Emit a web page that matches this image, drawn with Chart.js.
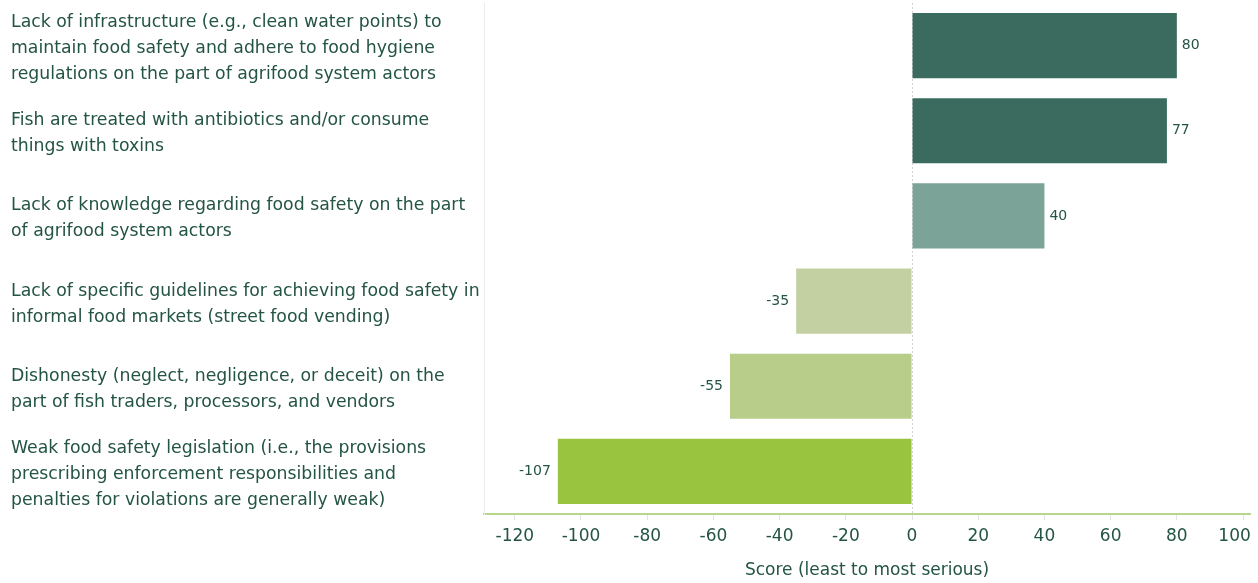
<!DOCTYPE html>
<html>
<head>
<meta charset="utf-8">
<script src="https://cdn.jsdelivr.net/npm/chart.js@4.4.1/dist/chart.umd.min.js"></script>
<style>
  html, body { margin: 0; padding: 0; background: #ffffff; }
  #wrap { width: 1258px; height: 583px; position: relative; }
</style>
</head>
<body>
<div id="wrap"><canvas id="chart"></canvas></div>
<script>
// Food safety issues, scored from least to most serious
const categories = [
  ["Lack of infrastructure (e.g., clean water points) to", "maintain food safety and adhere to food hygiene", "regulations on the part of agrifood system actors"],
  ["Fish are treated with antibiotics and/or consume", "things with toxins"],
  ["Lack of knowledge regarding food safety on the part", "of agrifood system actors"],
  ["Lack of specific guidelines for achieving food safety in", "informal food markets (street food vending)"],
  ["Dishonesty (neglect, negligence, or deceit) on the", "part of fish traders, processors, and vendors"],
  ["Weak food safety legislation (i.e., the provisions", "prescribing enforcement responsibilities and", "penalties for violations are generally weak)"]
];
const scores = [80, 77, 40, -35, -55, -107];
const barColors = ["#3a6b5e", "#3a6b5e", "#7ba398", "#c3d1a2", "#b8cd8a", "#98c43f"];
const xTicks = [-120, -100, -80, -60, -40, -20, 0, 20, 40, 60, 80, 100];
const axisTitle = "Score (least to most serious)";

const textColor = "#245445";
const fontFamily = "'DejaVu Sans', 'Noto Sans', sans-serif";

// Writes each score just beyond the end of its bar
const valueLabels = {
  id: 'valueLabels',
  afterDatasetsDraw(chart) {
    const ctx = chart.ctx;
    const meta = chart.getDatasetMeta(0);
    ctx.save();
    ctx.font = "14px " + fontFamily;
    ctx.fillStyle = textColor;
    ctx.textBaseline = 'middle';
    meta.data.forEach((bar, i) => {
      const v = scores[i];
      if (v >= 0) {
        ctx.textAlign = 'left';
        ctx.fillText(String(v), bar.x + 5, bar.y);
      } else {
        ctx.textAlign = 'right';
        ctx.fillText(String(v), bar.x - 7, bar.y);
      }
    });
    ctx.restore();
  }
};

new Chart(document.getElementById('chart'), {
  type: 'bar',
  data: {
    labels: categories,
    datasets: [{
      data: scores,
      backgroundColor: barColors,
      borderWidth: 0,
      barPercentage: 0.765,
      categoryPercentage: 1.0
    }]
  },
  options: {
    indexAxis: 'y',
    responsive: true,
    maintainAspectRatio: false,
    animation: false,
    layout: { padding: { left: 11, right: 8, top: 3, bottom: 0 } },
    plugins: {
      legend: { display: false },
      tooltip: { enabled: false }
    },
    scales: {
      x: {
        type: 'linear',
        min: -129.3,
        max: 102.1,
        afterBuildTicks(scale) {
          scale.ticks = xTicks.map(v => ({ value: v }));
        },
        afterFit(scale) {
          scale.height = 69;
          scale.paddingLeft = 0;
          scale.paddingRight = 0;
        },
        border: { display: true, color: "#b5d68b", width: 2, dash: [2, 2] },
        grid: {
          drawOnChartArea: true,
          drawTicks: true,
          tickLength: 6,
          color: (c) => (c.tick && c.tick.value === 0) ? "#d2d2d2" : "rgba(0,0,0,0)",
          tickColor: "#e3e3e3",
          tickBorderDash: [],
          lineWidth: 1
        },
        ticks: {
          color: textColor,
          font: { family: fontFamily, size: 17 },
          padding: 6,
          maxRotation: 0,
          autoSkip: false,
          callback: (v) => v === 100 ? "100\u2003" : String(v)
        },
        title: {
          display: true,
          text: axisTitle,
          color: textColor,
          font: { family: fontFamily, size: 17 },
          padding: { top: 4, bottom: 2 }
        }
      },
      y: {
        afterFit(scale) {
          scale.width = 473;
          scale.paddingTop = 0;
          scale.paddingBottom = 0;
        },
        border: { display: true, color: "#ebebeb", width: 1 },
        grid: { display: false },
        ticks: {
          crossAlign: 'far',
          labelOffset: 3,
          color: textColor,
          font: { family: fontFamily, size: 17.3, lineHeight: 1.5 },
          autoSkip: false
        }
      }
    }
  },
  plugins: [valueLabels]
});
</script>
</body>
</html>
